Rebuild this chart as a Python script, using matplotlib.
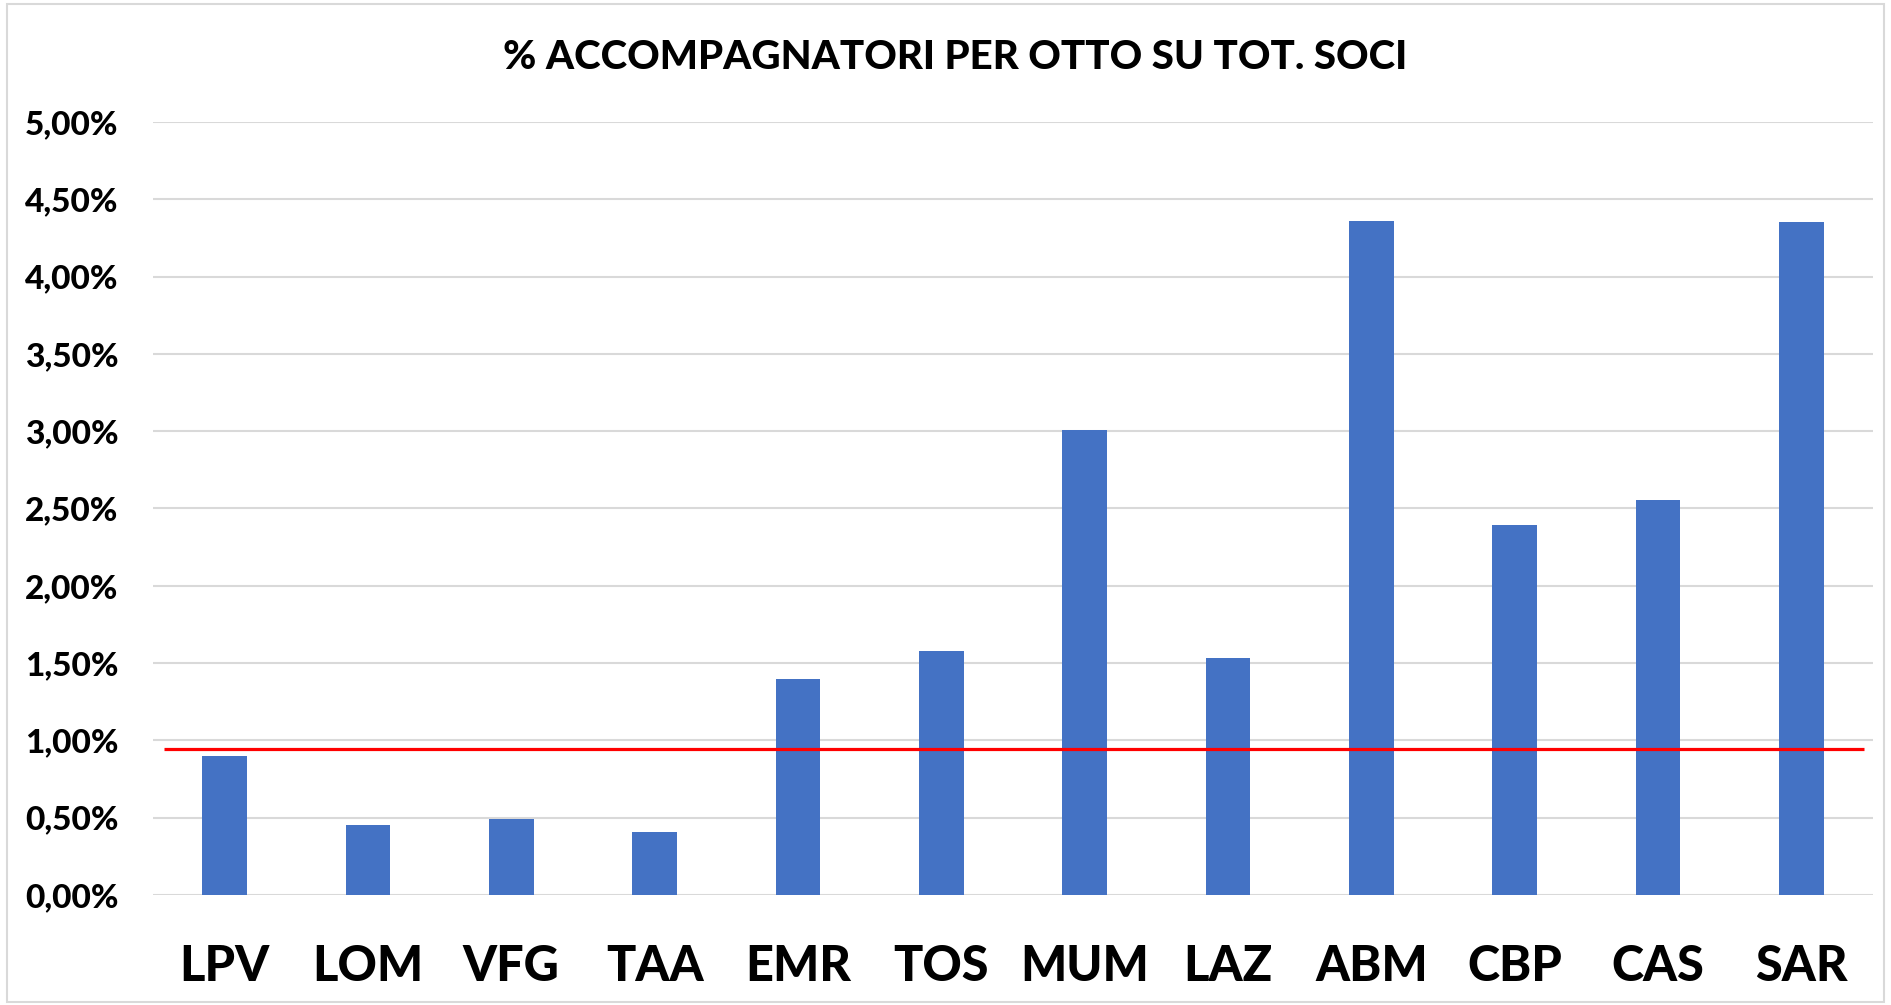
import matplotlib
matplotlib.use('Agg')
import matplotlib.pyplot as plt
from matplotlib.ticker import FuncFormatter
from matplotlib.patches import Rectangle

# dati
regioni = ['LPV', 'LOM', 'VFG', 'TAA', 'EMR', 'TOS', 'MUM', 'LAZ', 'ABM', 'CBP', 'CAS', 'SAR']
perc_accomp = [0.0090, 0.00455, 0.0049, 0.0041, 0.0140, 0.0158, 0.0301, 0.01534, 0.0436, 0.02395, 0.02556, 0.04355]
media_naz = 0.00947  # linea rossa
y_ticks = [0.0, 0.005, 0.01, 0.015, 0.02, 0.025, 0.03, 0.035, 0.04, 0.045, 0.05]

plt.rcParams['font.family'] = ['Lato', 'DejaVu Sans']

fig = plt.figure(figsize=(18.91, 10.05), dpi=100)
ax = fig.add_axes([0.0809, 0.1095, 0.9096, 0.7691])

x = range(len(regioni))
ax.bar(x, perc_accomp, width=0.31, color='#4472C4', zorder=3)
ax.hlines(media_naz, -0.42, 11.44, color='#FF0000', linewidth=2.3, zorder=4)

ax.set_xlim(-0.5, len(regioni) - 0.5)
ax.set_ylim(0, 0.05)
ax.set_yticks(y_ticks)
ax.yaxis.set_major_formatter(FuncFormatter(lambda v, p: f'{v*100:.2f}%'.replace('.', ',')))
ax.set_xticks(list(x))
ax.set_xticklabels(regioni)

ax.grid(axis='y', color='#D9D9D9', linewidth=1.5, zorder=0)
for s in ax.spines.values():
    s.set_visible(False)
ax.tick_params(axis='both', length=0)
ax.tick_params(axis='y', labelsize=24, pad=25)
ax.tick_params(axis='x', labelsize=35, pad=35)
for lab in ax.get_xticklabels() + ax.get_yticklabels():
    lab.set_fontweight('black')

fig.text(0.505, 0.943, '% ACCOMPAGNATORI PER OTTO SU TOT. SOCI', ha='center', va='center',
         fontsize=29, fontweight='black')

# bordo esterno del grafico
fig.patches.append(Rectangle((0.0035, 0.003), 0.993, 0.993, transform=fig.transFigure,
                             fill=False, edgecolor='#D9D9D9', linewidth=1.5))

fig.savefig('out.png', dpi=100)
